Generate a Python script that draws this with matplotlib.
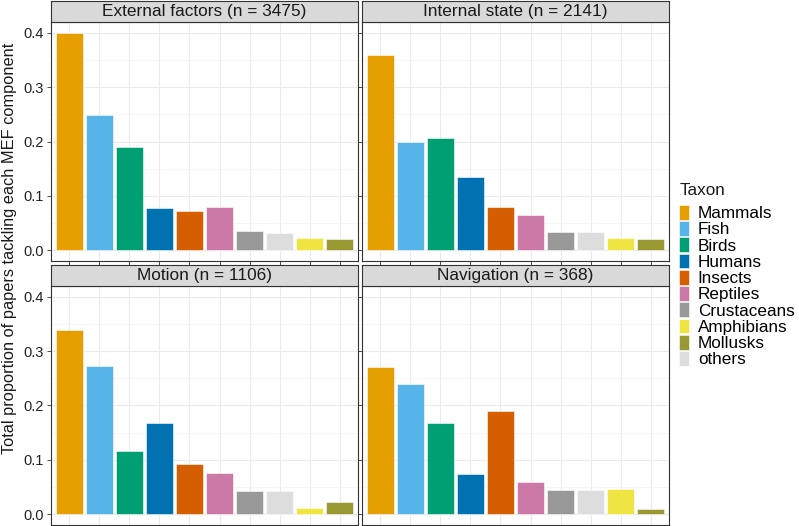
import matplotlib
matplotlib.use("Agg")
import matplotlib.pyplot as plt
from matplotlib.patches import Patch
from matplotlib.ticker import MultipleLocator

plt.rcParams['font.family'] = ['Liberation Sans', 'DejaVu Sans']

# bar order on x axis
taxa = ["Mammals", "Fish", "Birds", "Humans", "Insects", "Reptiles",
        "Crustaceans", "others", "Amphibians", "Mollusks"]
# legend order
legend_order = ["Mammals", "Fish", "Birds", "Humans", "Insects", "Reptiles",
                "Crustaceans", "Amphibians", "Mollusks", "others"]
colours = {"Mammals": "#E69F00", "Fish": "#56B4E9", "Birds": "#009E73",
           "Humans": "#0072B2", "Insects": "#D55E00", "Reptiles": "#CC79A7",
           "Crustaceans": "#999999", "Amphibians": "#F0E442",
           "Mollusks": "#999933", "others": "#DDDDDD"}

panel_titles = ["External factors (n = 3475)", "Internal state (n = 2141)",
                "Motion (n = 1106)", "Navigation (n = 368)"]
external = [0.400, 0.249, 0.190, 0.077, 0.072, 0.080, 0.036, 0.031, 0.023, 0.021]
internal = [0.360, 0.199, 0.206, 0.134, 0.080, 0.065, 0.033, 0.033, 0.023, 0.021]
motion = [0.339, 0.272, 0.117, 0.167, 0.093, 0.075, 0.043, 0.042, 0.012, 0.023]
navigation = [0.271, 0.239, 0.168, 0.073, 0.190, 0.060, 0.044, 0.044, 0.047, 0.009]
values = [external, internal, motion, navigation]

W, H = 799, 526
fig = plt.figure(figsize=(W / 100, H / 100), dpi=100)

# panel boxes in pixels: (left, top, right, bottom)
cols = [(51, 358), (362, 669)]
rows = [(0.5, 22, 261), (265, 286, 525)]

def fbox(l, t, r, b):
    return [l / W, 1 - b / H, (r - l) / W, (b - t) / H]

xs = list(range(1, len(taxa) + 1))
k = 0
for ri, (st, pt, pb) in enumerate(rows):
    for ci, (pl, pr) in enumerate(cols):
        ax = fig.add_axes(fbox(pl, pt, pr, pb))
        ax.bar(xs, values[k], width=0.9, color=[colours[t] for t in taxa],
               edgecolor="white", linewidth=0.4, zorder=3)
        ax.set_xlim(0.4, 10.6)
        ax.set_ylim(-0.02, 0.42)
        ax.set_xticks(xs)
        ax.set_xticklabels([])
        ax.yaxis.set_major_locator(MultipleLocator(0.1))
        ax.yaxis.set_minor_locator(MultipleLocator(0.05))
        ax.grid(True, which="major", color="#EBEBEB", linewidth=0.8, zorder=0)
        ax.grid(True, which="minor", axis="y", color="#F3F3F3", linewidth=0.5, zorder=0)
        ax.tick_params(which="major", length=3, color="#333333", width=0.6,
                       labelsize=10.5, labelcolor="#222222", pad=2)
        ax.tick_params(which="minor", length=0)
        if ci == 0:
            ax.set_yticklabels(["%.1f" % v for v in ax.get_yticks()])
        else:
            ax.set_yticklabels([])
        for s in ax.spines.values():
            s.set_color("#333333")
            s.set_linewidth(0.8)

        # strip
        sax = fig.add_axes(fbox(pl, st, pr, pt))
        sax.set_facecolor("#D9D9D9")
        sax.set_xticks([])
        sax.set_yticks([])
        for s in sax.spines.values():
            s.set_color("#333333")
            s.set_linewidth(0.8)
        sax.text(0.5, 0.48, panel_titles[k], ha="center", va="center",
                 fontsize=12.4, color="#1A1A1A", transform=sax.transAxes)
        k += 1

fig.text(10 / W, 1 - 248 / H, "Total proportion of papers tackling each MEF component",
         rotation=90, ha="center", va="center", fontsize=11.8, color="#1A1A1A")

fig.text(680 / W, 1 - 195 / H, "Taxon", ha="left", va="baseline",
         fontsize=12.3, color="#1A1A1A")
handles = [Patch(facecolor=colours[t], edgecolor="white", linewidth=0.4) for t in legend_order]
leg = fig.legend(handles, legend_order, loc="upper left",
                 bbox_to_anchor=(679 / W, 1 - 205 / H), frameon=False,
                 fontsize=12.3, handlelength=0.6,
                 handleheight=0.95, labelspacing=0.0, handletextpad=0.5,
                 borderpad=0, borderaxespad=0)

fig.savefig("out.png", dpi=100)
